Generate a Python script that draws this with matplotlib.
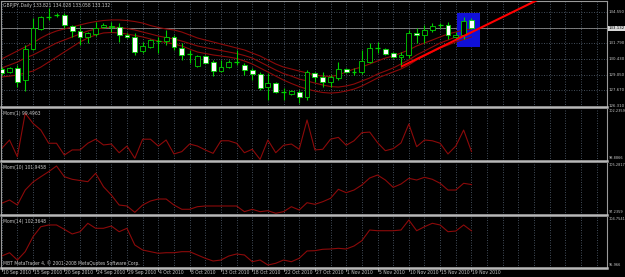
import matplotlib
matplotlib.use('Agg')
import matplotlib.pyplot as plt
from matplotlib.patches import Rectangle

# ---------------- data ----------------
title = "GBPJPY,Daily 133.821 134.028 133.058 133.132"
date_labels = ['10 Sep 2010', '15 Sep 2010', '20 Sep 2010', '24 Sep 2010', '29 Sep 2010',
               '4 Oct 2010', '8 Oct 2010', '13 Oct 2010', '18 Oct 2010', '22 Oct 2010',
               '27 Oct 2010', '1 Nov 2010', '5 Nov 2010', '10 Nov 2010', '15 Nov 2010',
               '19 Nov 2010']
date_bars = [0, 4, 8, 12, 16, 20, 24, 28, 32, 36, 40, 44, 48, 52, 56, 60]

opens = [129.52, 129.31, 129.61, 128.58, 131.28, 133.03, 134.10, 134.28, 134.29, 133.35,
         132.88, 132.38, 132.59, 133.26, 133.21, 133.26, 132.53, 132.33, 131.15, 131.50,
         132.02, 132.03, 132.33, 131.42, 130.84, 129.84, 130.69, 130.19, 129.38, 129.70,
         130.17, 129.90, 129.46, 129.11, 127.94, 128.29, 127.55, 127.36, 127.56, 127.12,
         129.22, 128.82, 128.41, 128.73, 129.52, 129.30, 129.29, 130.19, 131.34, 131.28,
         130.93, 130.57, 130.78, 132.68, 132.53, 132.97, 133.36, 133.41, 132.38, 132.53,
         133.821]
highs = [129.72, 129.75, 129.90, 131.65, 134.00, 134.20, 134.87, 134.43, 134.43, 133.41,
         133.41, 132.82, 133.70, 133.61, 133.70, 133.56, 132.68, 132.68, 131.94, 132.15,
         132.38, 132.97, 132.53, 131.80, 131.22, 130.78, 130.78, 130.34, 130.34, 130.34,
         131.22, 130.05, 129.61, 129.31, 129.17, 128.44, 127.86, 127.71, 127.71, 129.46,
         129.31, 129.31, 129.02, 130.19, 129.61, 129.61, 131.22, 131.80, 131.94, 131.36,
         131.07, 131.07, 132.97, 133.14, 133.41, 133.56, 133.56, 133.70, 132.82, 134.14,
         134.028]
lows = [129.02, 129.17, 128.00, 127.62, 131.22, 132.97, 133.85, 134.08, 133.12, 132.38,
        131.66, 131.80, 132.44, 133.12, 132.82, 131.94, 132.24, 130.78, 130.93, 131.36,
        130.93, 131.66, 131.22, 130.34, 130.05, 129.75, 130.05, 128.94, 129.31, 129.61,
        129.90, 129.02, 128.58, 127.71, 126.83, 127.42, 126.83, 127.27, 126.54, 126.83,
        128.44, 128.00, 128.00, 128.58, 129.17, 129.02, 129.11, 130.10, 130.93, 130.78,
        130.49, 129.75, 130.49, 131.83, 131.80, 132.82, 133.12, 132.15, 132.09, 132.15,
        133.058]
closes = [129.22, 129.61, 128.44, 131.28, 133.12, 134.08, 134.14, 134.32, 133.41, 132.91,
          132.38, 132.68, 133.12, 133.41, 133.32, 132.53, 132.33, 131.07, 131.59, 132.09,
          132.05, 132.38, 131.50, 130.78, 130.87, 130.69, 130.10, 129.40, 129.75, 130.19,
          130.19, 129.46, 129.11, 127.86, 128.29, 127.56, 127.58, 127.62, 127.12, 129.26,
          128.87, 128.44, 128.87, 129.52, 129.29, 129.33, 130.25, 131.36, 131.37, 130.86,
          130.57, 130.78, 132.68, 132.53, 132.97, 133.32, 133.39, 132.53, 132.53, 133.79,
          133.132]

ma_upper = [130.43, 130.78, 131.13, 131.48, 131.83, 132.27, 132.62, 132.88, 133.06, 133.23,
            133.41, 133.58, 133.71, 133.80, 133.85, 133.85, 133.80, 133.71, 133.58, 133.36,
            133.19, 133.06, 132.97, 132.79, 132.53, 132.27, 132.09, 131.92, 131.74, 131.57,
            131.39, 131.22, 130.95, 130.69, 130.34, 129.99, 129.72, 129.55, 129.37, 129.20,
            129.02, 128.93, 128.89, 129.02, 129.29, 129.55, 129.72, 129.99, 130.25, 130.51,
            130.69, 130.95, 131.22, 131.57, 131.83, 132.09, 132.36, 132.62, 132.79, 132.97,
            133.06]
ma_middle = [129.64, 129.90, 130.16, 130.51, 130.78, 131.13, 131.48, 131.83, 132.09, 132.36,
             132.62, 132.88, 133.06, 133.14, 133.23, 133.19, 133.10, 132.97, 132.79, 132.62,
             132.44, 132.31, 132.18, 132.00, 131.79, 131.57, 131.43, 131.30, 131.17, 131.04,
             130.91, 130.73, 130.51, 130.16, 129.81, 129.46, 129.15, 128.93, 128.67, 128.50,
             128.32, 128.15, 128.01, 127.97, 128.06, 128.23, 128.50, 128.76, 129.11, 129.37,
             129.64, 129.99, 130.34, 130.78, 131.13, 131.48, 131.83, 132.09, 132.36, 132.53,
             132.71]
ma_lower = [128.85, 128.93, 129.02, 129.20, 129.37, 129.72, 130.16, 130.60, 131.04, 131.48,
            131.92, 132.27, 132.53, 132.71, 132.75, 132.71, 132.62, 132.49, 132.36, 132.18,
            132.00, 131.87, 131.74, 131.57, 131.30, 131.04, 130.91, 130.78, 130.69, 130.60,
            130.47, 130.25, 129.99, 129.64, 129.29, 128.93, 128.58, 128.28, 128.01, 127.79,
            127.62, 127.49, 127.44, 127.49, 127.62, 127.79, 128.06, 128.41, 128.76, 129.02,
            129.29, 129.55, 129.90, 130.34, 130.69, 131.04, 131.39, 131.65, 131.92, 132.14,
            132.36]

mom1 = [99.70, 100.24, 99.16, 101.96, 101.31, 100.88, 100.03, 100.03, 99.27, 99.60,
        99.60, 100.03, 100.29, 99.92, 99.98, 99.42, 99.85, 99.06, 100.29, 100.29,
        99.85, 100.24, 99.34, 99.49, 99.98, 99.85, 99.60, 99.38, 100.19, 100.19,
        100.03, 99.42, 99.64, 98.99, 100.24, 99.42, 99.90, 99.98, 99.64, 101.53,
        99.60, 99.64, 100.29, 100.41, 99.90, 100.19, 100.71, 100.75, 100.07, 99.55,
        99.68, 100.05, 101.27, 99.81, 100.24, 100.19, 100.03, 99.34, 99.85, 100.88,
        99.4963]
mom10 = [99.05, 99.56, 98.78, 101.10, 102.34, 103.16, 103.94, 104.82, 103.16, 102.76,
         102.57, 102.39, 103.69, 101.61, 100.33, 98.78, 98.63, 97.65, 98.78, 99.40,
         99.71, 99.71, 98.78, 98.12, 98.12, 98.52, 98.63, 98.63, 98.63, 98.63,
         98.63, 97.75, 98.12, 97.75, 97.90, 97.50, 97.75, 98.52, 98.01, 99.14,
         98.89, 99.29, 99.82, 101.21, 100.69, 101.10, 101.88, 102.96, 103.42, 102.65,
         101.52, 102.03, 102.91, 102.65, 103.07, 102.76, 102.14, 101.10, 101.10, 102.14,
         101.9458]
mom14 = [98.03, 98.60, 97.34, 98.78, 101.36, 103.08, 103.38, 103.38, 102.63, 101.83,
         102.22, 103.67, 102.81, 102.81, 103.20, 102.22, 102.81, 99.93, 99.07, 98.78,
         98.50, 98.60, 98.60, 98.78, 98.78, 98.21, 97.64, 97.17, 97.34, 98.03,
         98.38, 98.21, 97.05, 97.34, 96.48, 96.78, 97.34, 97.05, 97.64, 98.90,
         98.95, 99.19, 99.24, 99.36, 99.24, 99.76, 100.67, 102.51, 102.39, 102.39,
         102.39, 102.51, 104.24, 102.39, 103.08, 103.67, 103.38, 102.22, 102.34, 103.38,
         102.3648]

price_levels = [134.550, 131.790, 130.430, 129.050, 127.670, 126.310]
price_labels = ['134.550', '131.790', '130.430', '129.050', '127.670', '126.310']
grid_levels = [134.550, 133.170, 131.790, 130.430, 129.050, 127.670]
bid_price = 133.132
main_range = (126.22, 135.51)

mom_names = ['Mom(1) 99.4963', 'Mom(10) 101.9458', 'Mom(14) 102.3648']
mom_ranges = [(98.8866, 102.2359), (97.2359, 105.2817), (95.966, 104.7541)]
mom_range_labels = [('98.8866', '102.2359'), ('97.2359', '105.2817'), ('95.966', '104.7541')]

trend_bars = [51, 70]
trend_prices = [129.75, 136.13]
rect_bars = (58.1, 61.1)
rect_prices = (131.51, 134.49)

copyright_text = "MBT MetaTrader 4, \u00a9 2001-2008 MetaQuotes Software Corp."

# ---------------- layout ----------------
W, H = 625, 277
BG = '#000000'
FG = '#c8c8c8'
GRID = '#4c5866'
GREEN = '#00d000'
MAROON = '#8c0a0a'
FS = 3.25
FS_R = 2.8
FS_R8 = 2.5
XL = (-0.09, 77.31)

fig = plt.figure(figsize=(W / 100, H / 100), dpi=100, facecolor=BG)


def bar_px(b):
    return 1 + (b - XL[0]) / (XL[1] - XL[0]) * 606


def add_panel(top, bottom):
    ax = fig.add_axes([1 / W, 1 - bottom / H, 606 / W, (bottom - top) / H])
    ax.set_facecolor(BG)
    ax.set_xlim(*XL)
    ax.set_xticks([])
    ax.set_yticks([])
    for s in ('left', 'right'):
        ax.spines[s].set_color('#9a9a9a')
        ax.spines[s].set_linewidth(0.8)
    ax.spines['top'].set_visible(False)
    ax.spines['bottom'].set_color('#b8b8b8')
    ax.spines['bottom'].set_linewidth(1.8)
    for g in range(0, 78, 2):
        ax.axvline(g, color=GRID, lw=0.6, ls=(0, (1.2, 1.8)), zorder=0.5)
    return ax


def ftext(x, y, s, **kw):
    kw.setdefault('color', FG)
    kw.setdefault('fontsize', FS)
    fig.text(x / W, 1 - y / H, s, **kw)


# main price panel
ax = add_panel(1, 107)
ax.spines['top'].set_visible(True)
ax.spines['top'].set_color('#9a9a9a')
ax.spines['top'].set_linewidth(0.8)
ax.set_ylim(*main_range)
for lv in grid_levels:
    ax.axhline(lv, color=GRID, lw=0.6, ls=(0, (1.2, 1.8)), zorder=0.5)
ax.axhline(bid_price, color='#8a8a8a', lw=0.6, zorder=0.6)

ax.add_patch(Rectangle((rect_bars[0], rect_prices[0]), rect_bars[1] - rect_bars[0],
                       rect_prices[1] - rect_prices[0], facecolor='#1010d8',
                       edgecolor='none', zorder=1))

xs = list(range(len(closes)))
ax.plot(xs, ma_upper, color=MAROON, lw=0.8, zorder=2)
ax.plot(xs, ma_middle, color=MAROON, lw=0.8, zorder=2)
ax.plot(xs, ma_lower, color=MAROON, lw=0.8, zorder=2)

bw = 0.62
for i in xs:
    o, h, l, c = opens[i], highs[i], lows[i], closes[i]
    ax.vlines(i, l, h, color=GREEN, lw=0.8, zorder=3)
    if abs(c - o) < 0.06:
        ax.hlines((o + c) / 2, i - bw / 2, i + bw / 2, color=GREEN, lw=0.9, zorder=4)
    else:
        fc = '#000000' if c > o else '#ffffff'
        ax.add_patch(Rectangle((i - bw / 2, min(o, c)), bw, abs(c - o), facecolor=fc,
                               edgecolor=GREEN, lw=0.6, zorder=4))

ax.plot(trend_bars, trend_prices, color='#ff0000', lw=1.5, zorder=5, solid_capstyle='butt')

# price labels on the right
for lv, lab in zip(price_levels, price_labels):
    y = 1 + (main_range[1] - lv) / (main_range[1] - main_range[0]) * 106
    ftext(608.5, y, lab, va='center', ha='left', fontsize=FS_R)
ybid = 1 + (main_range[1] - bid_price) / (main_range[1] - main_range[0]) * 106
ftext(608.5, ybid, '133.132', va='center', ha='left', color='#000000', fontsize=FS_R,
      bbox=dict(boxstyle='square,pad=0.15', facecolor='#d8d8d8', edgecolor='none'))
ftext(3, 5, title, va='center', ha='left')

# momentum panels
tops = [109, 163, 217]
bots = [161, 215, 268]
series = [mom1, mom10, mom14]
for k in range(3):
    a = add_panel(tops[k], bots[k])
    a.set_ylim(*mom_ranges[k])
    a.plot(xs, series[k], color=MAROON, lw=0.8)
    ftext(3, tops[k] + 4.5, mom_names[k], va='center', ha='left')
    ftext(608.5, tops[k] + 2.5, mom_range_labels[k][1], va='center', ha='left', fontsize=FS_R8)
    ftext(608.5, bots[k] - 3, mom_range_labels[k][0], va='center', ha='left', fontsize=FS_R8)

ftext(3, 263, copyright_text, va='center', ha='left')

# date axis
for b, lab in zip(date_bars, date_labels):
    xp = bar_px(b)
    ftext(xp + 1, 272.5, lab, va='center', ha='left')
    fig.add_artist(plt.Line2D([xp / W, xp / W], [1 - 268 / H, 1 - 271 / H],
                              color=FG, lw=0.5))

fig.savefig('out.png', dpi=100, facecolor=BG)
